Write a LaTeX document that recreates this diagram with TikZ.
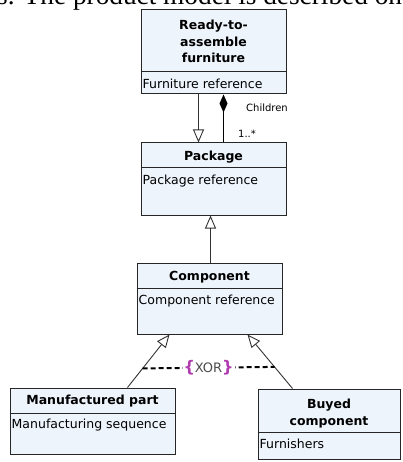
\documentclass[tikz,border=0pt]{standalone}
\usepackage{fontspec}
\setmainfont{Liberation Serif}
\newfontfamily\umlfont{DejaVu Sans}
\usetikzlibrary{arrows.meta}

\definecolor{classfill}{HTML}{EEF4FC}
\definecolor{xorpink}{HTML}{B03CB0}

\tikzset{
	classbox/.style={draw=black!85, line width=1pt, fill=classfill, inner sep=0pt},
	classtitle/.style={font=\umlfont\bfseries\fontsize{12.5}{16.5}\selectfont, align=center, inner sep=0pt},
	classattr/.style={font=\umlfont\fontsize{12.5}{14}\selectfont, anchor=west, inner sep=0pt},
	smalllabel/.style={font=\umlfont\fontsize{10}{12}\selectfont, anchor=west, inner sep=0pt},
	gen/.style={draw=black!80, line width=0.9pt, -{Triangle[open, length=13pt, width=11pt]}},
	comp/.style={draw=black, line width=1.4pt, {Diamond[length=18pt, width=8pt]}-},
	xorline/.style={draw=black, line width=2pt, dash pattern=on 5pt off 3pt}
}

\begin{document}
\begin{tikzpicture}[x=1pt, y=-1pt]
	\useasboundingbox (0,0) rectangle (403,462);
	\fill[white] (0,0) rectangle (403,462);

	% cut text line at the top
	\begin{scope}
		\clip (0,0) rectangle (403,462);
		\node[anchor=base west, inner sep=0pt, font=\fontsize{27.3}{29}\selectfont] (toptext) at (-3,5) {s. The product model is described on t};
	\end{scope}

	% Ready-to-assemble furniture
	\node[classbox, minimum width=145pt, minimum height=84pt] (furn) at (213.5,52) {};
	\draw[black!85] (furn.west |- 0,71) -- (furn.east |- 0,71);
	\node[classtitle] (furn-t) at (213.5,41.5) {Ready-to-\\assemble\\furniture};
	\node[classattr] (furn-a) at ([xshift=2pt]furn.west |- 0,84) {Furniture reference};

	% Package
	\node[classbox, minimum width=145pt, minimum height=72pt] (pack) at (213.5,179) {};
	\draw[black!85] (pack.west |- 0,167) -- (pack.east |- 0,167);
	\node[classtitle] (pack-t) at (213.5,157) {Package};
	\node[classattr] (pack-a) at ([xshift=2pt]pack.west |- 0,181) {Package reference};

	% Component
	\node[classbox, minimum width=145pt, minimum height=71pt] (comp) at (209.5,298.5) {};
	\draw[black!85] (comp.west |- 0,288) -- (comp.east |- 0,288);
	\node[classtitle] (comp-t) at (209.5,277) {Component};
	\node[classattr] (comp-a) at ([xshift=2pt]comp.west |- 0,301) {Component reference};

	% Manufactured part
	\node[classbox, minimum width=165pt, minimum height=66pt] (manu) at (92.5,421) {};
	\draw[black!85] (manu.west |- 0,413) -- (manu.east |- 0,413);
	\node[classtitle] (manu-t) at (92.5,401) {Manufactured part};
	\node[classattr] (manu-a) at ([xshift=2pt]manu.west |- 0,425) {Manufacturing sequence};

	% Buyed component
	\node[classbox, minimum width=142pt, minimum height=70pt] (buy) at (329,424) {};
	\draw[black!85] (buy.west |- 0,432) -- (buy.east |- 0,432);
	\node[classtitle] (buy-t) at (329,413.5) {Buyed\\component};
	\node[classattr] (buy-a) at ([xshift=2pt]buy.west |- 0,444) {Furnishers};

	% connectors
	\draw[gen] ([xshift=58pt]furn.south west) -- ([xshift=58pt]pack.north west);
	\draw[comp] ([xshift=83pt]furn.south west) -- ([xshift=83pt]pack.north west);
	\node[smalllabel] (children) at (246,108) {Children};
	\node[smalllabel] (mult) at (238,134) {1..*};
	\draw[gen] ([xshift=74pt]comp.north west) -- ([xshift=70pt]pack.south west);
	\draw[gen] ([xshift=118pt]manu.north west) -- coordinate[pos=0.36] (xl) ([xshift=33pt]comp.south west);
	\draw[gen] ([xshift=35pt]buy.north west) -- coordinate[pos=0.4] (xr) ([xshift=111pt]comp.south west);
	\draw[xorline] (xl) -- node[fill=white, inner sep=1pt, font=\umlfont\fontsize{13}{15}\selectfont] (xor) {\textcolor{xorpink}{\fontsize{16}{16}\selectfont\bfseries\{}\textcolor{black!70}{XOR}\textcolor{xorpink}{\fontsize{16}{16}\selectfont\bfseries\}}} (xr);
\end{tikzpicture}
\end{document}
